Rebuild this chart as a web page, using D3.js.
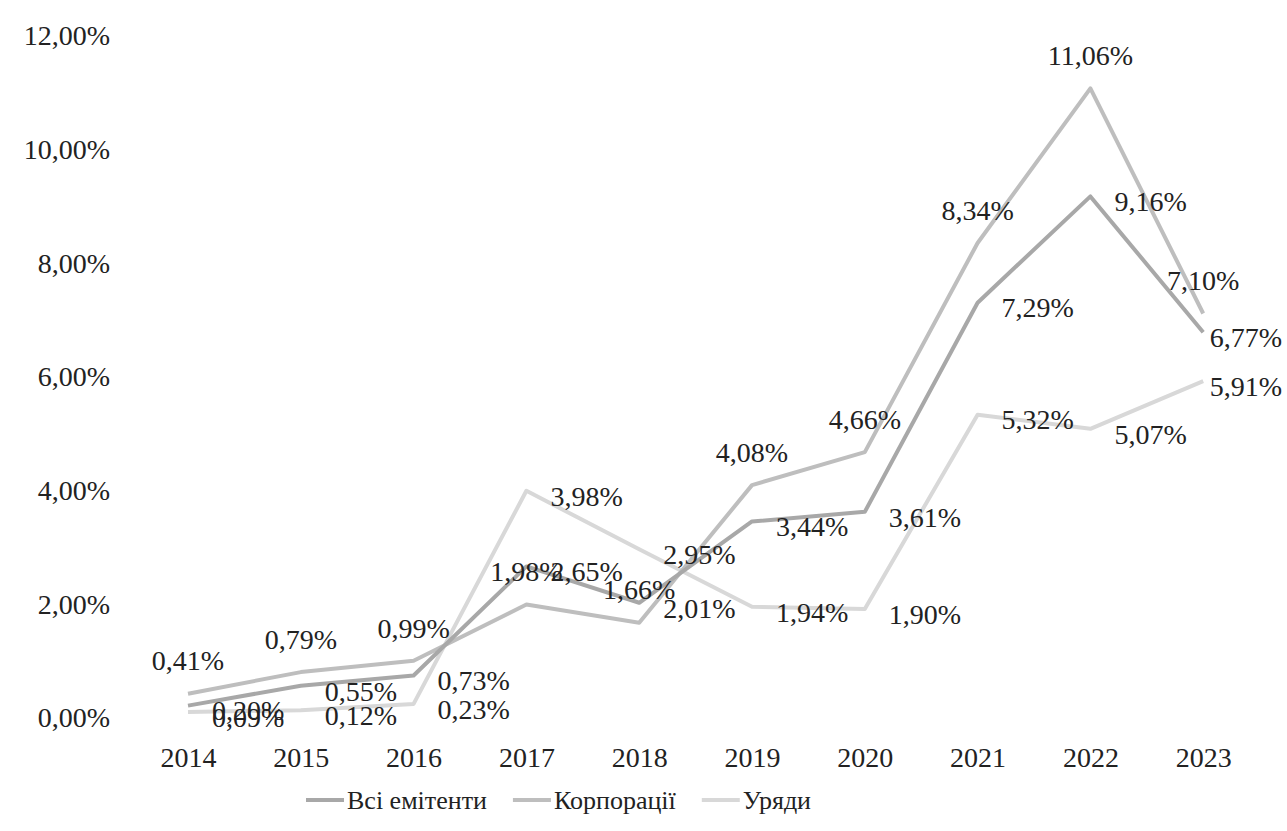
<!DOCTYPE html>
<html>
<head>
<meta charset="utf-8">
<script src="https://cdn.jsdelivr.net/npm/d3@7"></script>
<style>
  body { margin: 0; background: #fff; }
  svg text { font-family: "Liberation Serif", "Times New Roman", Times, "DejaVu Serif", serif; fill: #222; font-size: 28px; }
</style>
</head>
<body>
<script>
// data (shares, 0.0398 = 3,98%)
var years = ["2014", "2015", "2016", "2017", "2018", "2019", "2020", "2021", "2022", "2023"];
var allIssuers = [0.0020, 0.0055, 0.0073, 0.0265, 0.0201, 0.0344, 0.0361, 0.0729, 0.0916, 0.0677];
var corporates = [0.0041, 0.0079, 0.0099, 0.0198, 0.0166, 0.0408, 0.0466, 0.0834, 0.1106, 0.0710];
var governments = [0.0009, 0.0012, 0.0023, 0.0398, 0.0295, 0.0194, 0.0190, 0.0532, 0.0507, 0.0591];
var yTicks = [0, 0.02, 0.04, 0.06, 0.08, 0.10, 0.12];
var seriesNames = ["Всі емітенти", "Корпорації", "Уряди"];

var svgWidth = 1287;
var svgHeight = 831;

var series = [
  { name: seriesNames[0], values: allIssuers, color: "#a8a8a8", label: "right" },
  { name: seriesNames[1], values: corporates, color: "#bebebe", label: "above" },
  { name: seriesNames[2], values: governments, color: "#d8d8d8", label: "right" }
];

var locale = d3.formatLocale({ decimal: ",", thousands: " ", grouping: [3], currency: ["", ""] });
var pct = locale.format(".2%");

var svg = d3.select("body")
  .append("svg")
  .attr("width", svgWidth)
  .attr("height", svgHeight);

var x = d3.scalePoint()
  .domain(years)
  .range([131.6, 1259.6])
  .padding(0.5);

var y = d3.scaleLinear()
  .domain([0, 0.12])
  .range([717, 35]);

// y axis, labels only
var yAxis = d3.axisLeft(y)
  .tickValues(yTicks)
  .tickFormat(pct)
  .tickSize(0)
  .tickPadding(0);

svg.append("g")
  .attr("transform", "translate(110,0)")
  .call(yAxis)
  .call(g => g.select(".domain").remove())
  .call(g => g.attr("font-family", null).attr("font-size", null))
  .selectAll("text")
  .attr("fill", "#222")
  .attr("dy", "0.35em");

// x axis, labels only
var xAxis = d3.axisBottom(x)
  .tickSize(0)
  .tickPadding(0);

svg.append("g")
  .attr("transform", "translate(0,757)")
  .call(xAxis)
  .call(g => g.select(".domain").remove())
  .call(g => g.attr("font-family", null).attr("font-size", null))
  .selectAll("text")
  .attr("fill", "#222")
  .attr("dy", "0.35em");

var line = d3.line()
  .x((d, i) => x(years[i]))
  .y(d => y(d));

// draw lines (governments first so darker ones sit on top)
series.slice().reverse().forEach(function(s) {
  svg.append("path")
    .datum(s.values)
    .attr("fill", "none")
    .attr("stroke", s.color)
    .attr("stroke-width", 4)
    .attr("stroke-linejoin", "round")
    .attr("d", line);
});

// data labels
series.forEach(function(s) {
  svg.append("g")
    .selectAll("text")
    .data(s.values)
    .enter()
    .append("text")
    .attr("x", (d, i) => s.label === "above" ? x(years[i]) : x(years[i]) + 24)
    .attr("y", d => s.label === "above" ? y(d) - 33 : y(d) + 5)
    .attr("dy", "0.35em")
    .attr("text-anchor", s.label === "above" ? "middle" : "start")
    .text(d => pct(d))
    .each(function() {
      // keep labels inside the picture like the spreadsheet does
      var b = this.getBBox();
      var over = b.x + b.width - (svgWidth - 5);
      if (over > 0) d3.select(this).attr("x", +d3.select(this).attr("x") - over);
    });
});

// legend, items laid out one after another
var legend = svg.append("g");
var lx = 306;
series.forEach(function(s) {
  legend.append("line")
    .attr("x1", lx)
    .attr("x2", lx + 38)
    .attr("y1", 800)
    .attr("y2", 800)
    .attr("stroke", s.color)
    .attr("stroke-width", 4);
  var t = legend.append("text")
    .attr("x", lx + 41)
    .attr("y", 800)
    .attr("dy", "0.35em")
    .style("font-size", "26px")
    .text(s.name);
  lx += 41 + t.node().getComputedTextLength() + 26;
});
</script>
</body>
</html>
